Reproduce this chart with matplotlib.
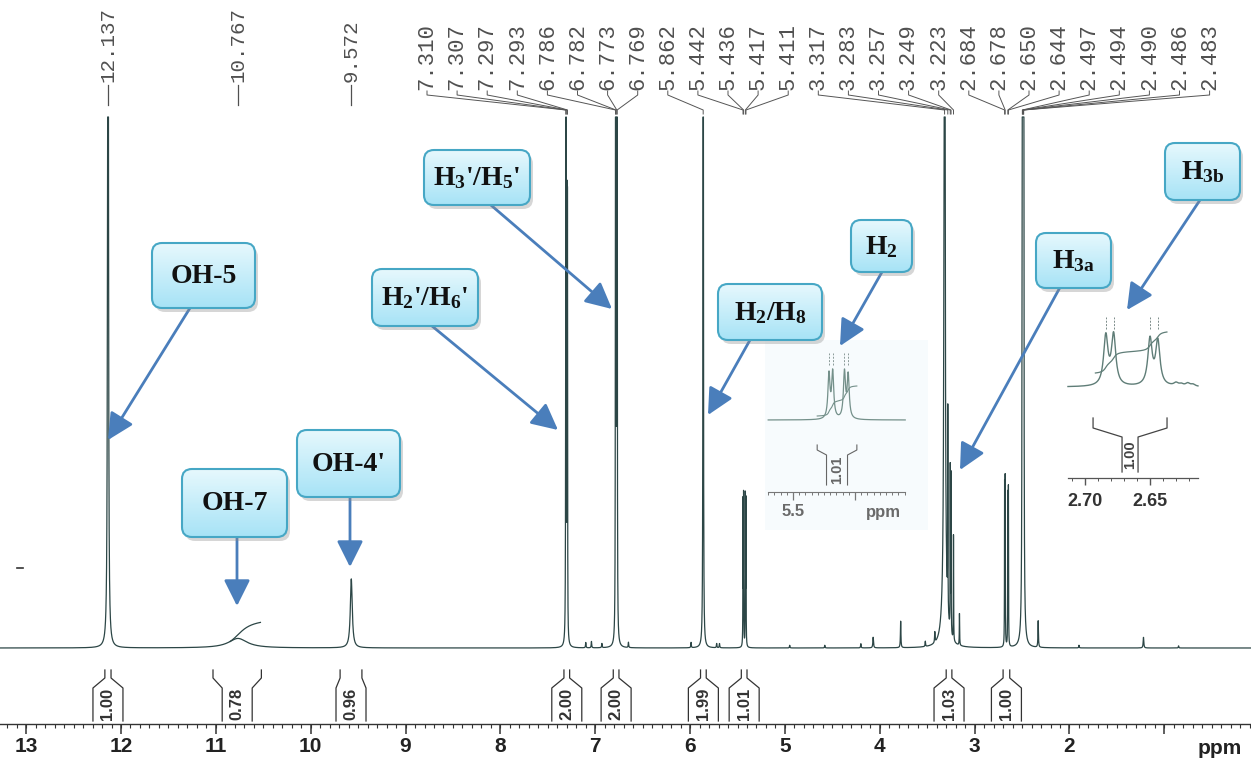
import numpy as np
import matplotlib.pyplot as plt
from matplotlib.patches import FancyBboxPatch, FancyArrowPatch
from matplotlib.colors import LinearSegmentedColormap

plt.rcParams['mathtext.fontset'] = 'custom'
plt.rcParams['mathtext.rm'] = 'Liberation Serif:bold'
plt.rcParams['mathtext.it'] = 'Liberation Serif:bold'
plt.rcParams['mathtext.bf'] = 'Liberation Serif:bold'

W, H = 1251, 762

# main 1H spectrum: shift (ppm), height (1 = top of the trace), half width (ppm)
peak_shift = [12.137, 10.767, 9.572, 7.310, 7.307, 7.297, 7.293, 7.10, 7.04, 6.93,
              6.786, 6.782, 6.773, 6.769, 6.65, 5.99, 5.862, 5.72, 5.69,
              5.442, 5.436, 5.417, 5.411, 4.95, 4.58, 4.20, 4.07, 3.78, 3.52, 3.42,
              3.317, 3.317, 3.283, 3.257, 3.249, 3.223, 3.16,
              2.684, 2.678, 2.650, 2.644,
              2.497, 2.494, 2.490, 2.486, 2.483, 2.33, 1.90, 1.22, 0.85]
peak_height = [4.0, 0.018, 0.13, 1.4, 1.4, 0.75, 0.75, 0.010, 0.012, 0.008,
               1.6, 1.6, 1.6, 1.6, 0.010, 0.010, 2.5, 0.008, 0.008,
               0.27, 0.28, 0.28, 0.27, 0.005, 0.005, 0.008, 0.02, 0.05, 0.01, 0.02,
               5.0, 0.12, 0.38, 0.31, 0.30, 0.2, 0.06,
               0.30, 0.31, 0.28, 0.29,
               3.0, 3.0, 3.0, 3.0, 3.0, 0.05, 0.005, 0.02, 0.004]
peak_width = [0.003, 0.12, 0.012, 0.0015, 0.0015, 0.0015, 0.0015, 0.003, 0.003, 0.003,
              0.0015, 0.0015, 0.0015, 0.0015, 0.003, 0.003, 0.002, 0.003, 0.003,
              0.0015, 0.0015, 0.0015, 0.0015, 0.003, 0.003, 0.003, 0.004, 0.003, 0.003, 0.003,
              0.003, 0.025, 0.0015, 0.0015, 0.0015, 0.0015, 0.002,
              0.0015, 0.0015, 0.0015, 0.0015,
              0.0015, 0.0015, 0.0015, 0.0015, 0.0015, 0.003, 0.003, 0.004, 0.003]

isolated_shifts = [12.137, 10.767, 9.572]
group_shifts = [7.310, 7.307, 7.297, 7.293, 6.786, 6.782, 6.773, 6.769, 5.862,
                5.442, 5.436, 5.417, 5.411, 3.317, 3.283, 3.257, 3.249, 3.223,
                2.684, 2.678, 2.650, 2.644, 2.497, 2.494, 2.490, 2.486, 2.483]

int_left = [12.17, 11.03, 9.69, 7.33, 6.81, 5.89, 5.46, 3.30, 2.70]
int_right = [12.105, 10.52, 9.46, 7.27, 6.75, 5.83, 5.40, 3.24, 2.63]
int_value = ['1.00', '0.78', '0.96', '2.00', '2.00', '1.99', '1.01', '1.03', '1.00']

major_ticks = list(range(13, 0, -1))
tick_labels = [str(t) for t in range(13, 1, -1)]

# expanded H2 multiplet
ins1_shift = [5.442, 5.436, 5.417, 5.411]
ins1_height = [44, 46, 46, 43]
# expanded H3b multiplet
ins2_shift = [2.684, 2.678, 2.650, 2.644, 2.630, 2.626, 2.621, 2.617]
ins2_height = [49, 50, 46, 44, 3, 2, 3, 2]

# assignments: text, box (px: left, top, right, bottom), arrow start, arrow tip (px)
callout_text = ['OH-5', 'OH-7', "OH-4'", "H$_2$'/H$_6$'", "H$_3$'/H$_5$'",
                'H$_2$/H$_8$', 'H$_2$', 'H$_{3a}$', 'H$_{3b}$']
callout_box = [(152, 243, 255, 308), (182, 469, 287, 537), (297, 430, 400, 497),
               (372, 269, 478, 326), (424, 150, 530, 205), (718, 284, 822, 340),
               (851, 220, 912, 272), (1036, 233, 1111, 288), (1165, 143, 1240, 200)]
arrow_from = [(190, 308), (237, 537), (350, 497), (432, 326), (485, 200),
              (750, 340), (882, 272), (1075, 260), (1200, 200)]
arrow_to = [(108, 440), (237, 606), (350, 567), (558, 430), (612, 309),
            (708, 415), (840, 346), (960, 470), (1127, 310)]

# pixel <-> data helpers for the main trace
X0_PX, X0_PPM, PX_PER_PPM = 108, 12.137, 94.85
BASE_PX, PX_PER_UNIT = 648, 531


def ppm_px(p):
    return X0_PX + (X0_PPM - p) * PX_PER_PPM


def px_ppm(x):
    return X0_PPM - (x - X0_PX) / PX_PER_PPM


def py_int(y):
    return (BASE_PX - y) / PX_PER_UNIT


def lorentz(x, c, h, w):
    c, h, w = np.asarray(c), np.asarray(h), np.asarray(w)
    return (h * w**2 / ((x[:, None] - c)**2 + w**2)).sum(axis=1)


def integral_trace(x, y, start, end, y0, rise):
    m = (x <= start) & (x >= end)
    cum = np.cumsum(y[m])
    return x[m], y0 + rise * cum / cum[-1]


def bracket(a, left, right, half, ys, text, tsize, color, lw, ty):
    c = (left + right) / 2
    a.plot([left, left, c + half, c + half], ys, color=color, lw=lw)
    a.plot([right, right, c - half, c - half], ys, color=color, lw=lw)
    a.text(c, ty, text, rotation=90, ha='center', va='center', fontsize=tsize,
           family='Liberation Sans', fontweight='bold', color=color)


fig = plt.figure(figsize=(W / 100, H / 100), dpi=100)

# ---- main spectrum
ax = fig.add_axes([0, 0, 1, 1])
ax.set_xlim(px_ppm(0), px_ppm(W))
ax.set_ylim(py_int(H), py_int(0))
ax.axis('off')

x = np.arange(px_ppm(0), px_ppm(W), -0.0005)
y = lorentz(x, peak_shift, peak_height, peak_width)
ax.plot(x, np.minimum(y, 1.0), color='#2c4646', lw=0.9)

broad = lorentz(x, [10.767], [0.018], [0.12])
xi, yi = integral_trace(x, broad, 10.85, 10.53, np.interp(-10.85, -x, y), 0.036)
ax.plot(xi, yi, color='#2c4646', lw=0.9)

for l, r, v in zip(int_left, int_right, int_value):
    bracket(ax, l, r, 15 / PX_PER_PPM,
            [py_int(670), py_int(678), py_int(688), py_int(721)],
            v, 12, '#333333', 0.9, py_int(704))

y_axis = py_int(724)
ax.plot([px_ppm(0), px_ppm(W)], [y_axis, y_axis], color='#333333', lw=1)
minor = np.round(np.arange(0.1, 13.25, 0.1), 1)
ax.vlines(minor, py_int(728), y_axis, color='#333333', lw=0.8)
ax.vlines(major_ticks, py_int(734), y_axis, color='#333333', lw=1.1)
for t in tick_labels:
    ax.text(float(t), py_int(747), t, ha='center', va='center', fontsize=15,
            family='Liberation Sans', fontweight='bold', color='#222222')
ax.text(px_ppm(1220), py_int(749), 'ppm', ha='center', va='center', fontsize=15,
        family='Liberation Sans', fontweight='bold', color='#222222')

# ---- inset 1: H2 expansion
ax1 = fig.add_axes([765 / W, 1 - 530 / H, 163 / W, 190 / H])
ax1.set_xlim(5.5 + 28 / 620, 5.5 - 135 / 620)
ax1.set_ylim(-110, 80)
ax1.set_facecolor('#f7fbfd')
for s in ax1.spines.values():
    s.set_visible(False)
ax1.set_xticks([])
ax1.set_yticks([])
x1 = np.linspace(5.540, 5.319, 3000)
y1 = lorentz(x1, ins1_shift, ins1_height, [0.002] * 4)
ax1.plot(x1, y1, color='#74908a', lw=0.9)
ax1.vlines(ins1_shift, 55, 67, color='#8a9a98', lw=0.7, linestyles=(0, (2, 1.5)))
xi, yi = integral_trace(x1, y1, 5.461, 5.397, 4, 30)
ax1.plot(xi, yi, color='#74908a', lw=0.8)
bracket(ax1, 5.461, 5.397, 10.5 / 620, [-25, -30, -35, -65], '1.01', 10.5, '#666666', 0.8, -50)
ax1.plot([5.540, 5.319], [-72, -72], color='#777777', lw=0.8)
ax1.vlines(np.round(np.arange(5.32, 5.545, 0.01), 2), -75, -72, color='#777777', lw=0.7)
ax1.vlines([5.5, 5.4], -80, -72, color='#777777', lw=0.9)
ax1.text(5.5, -92, '5.5', ha='center', va='center', fontsize=12, family='Liberation Sans',
         fontweight='bold', color='#6a6a6a')
ax1.text(5.5 - 90 / 620, -93, 'ppm', ha='center', va='center', fontsize=12,
         family='Liberation Sans', fontweight='bold', color='#6a6a6a')

# ---- inset 2: H3b expansion
ax2 = fig.add_axes([1065 / W, 1 - 520 / H, 135 / W, 210 / H])
ax2.set_xlim(2.70 + 20 / 1300, 2.65 - 50 / 1300)
ax2.set_ylim(-133, 77)
ax2.set_facecolor('none')
for s in ax2.spines.values():
    s.set_visible(False)
ax2.set_xticks([])
ax2.set_yticks([])
x2 = np.linspace(2.7131, 2.6131, 3000)
y2 = lorentz(x2, ins2_shift, ins2_height, [0.002] * 8)
ax2.plot(x2, y2, color='#5f7d77', lw=1.0)
ax2.vlines(ins2_shift[:4], 58, 70, color='#7a8a88', lw=0.7, linestyles=(0, (2, 1.5)))
xi, yi = integral_trace(x2, y2, 2.692, 2.637, 14, 41)
ax2.plot(xi, yi, color='#5f7d77', lw=0.9)
bracket(ax2, 2.6938, 2.6369, 8 / 1300, [-31, -41, -50, -85], '1.00', 10.5, '#444444', 0.9, -68)
ax2.plot([2.7131, 2.6131], [-91, -91], color='#555555', lw=0.9)
ax2.vlines(np.round(np.arange(2.62, 2.715, 0.01), 2), -94, -91, color='#555555', lw=0.7)
ax2.vlines([2.70, 2.65], -98, -91, color='#555555', lw=1.0)
for t in ['2.70', '2.65']:
    ax2.text(float(t), -114, t, ha='center', va='center', fontsize=13,
             family='Liberation Sans', fontweight='bold', color='#333333')

# ---- overlay in pixel units: peak picking, boxes, arrows
ov = fig.add_axes([0, 0, 1, 1])
ov.patch.set_alpha(0)
ov.axis('off')

for s in isolated_shifts:
    xp = ppm_px(s)
    ov.text(xp, 82, f'{s:.3f}', rotation=90, ha='center', va='bottom',
            family='Liberation Mono', fontsize=15, color='#505050')
    ov.plot([xp, xp], [85, 105], color='#505050', lw=0.9)

for i, s in enumerate(group_shifts):
    xl = 427 + 30.1 * i
    xp = ppm_px(s)
    ov.text(xl, 90, f'{s:.3f}', rotation=90, ha='center', va='bottom',
            family='Liberation Mono', fontsize=16, color='#505050')
    ov.plot([xl, xl, xp, xp], [91, 95, 110, 114], color='#555555', lw=0.7)

ov.plot([17, 23], [568, 568], color='#333333', lw=1.2)

cmap = LinearSegmentedColormap.from_list('callout', ['#e6f8fd', '#a7e3f6'])
grad = np.linspace(0, 1, 64).reshape(-1, 1)
for fr, to in zip(arrow_from, arrow_to):
    ov.add_patch(FancyArrowPatch(fr, to, arrowstyle='-|>,head_length=0.8,head_width=0.4',
                                 mutation_scale=20, lw=2, color='#4a7ebb',
                                 shrinkA=0, shrinkB=0, zorder=3))
for (x0, y0, x1_, y1_), txt in zip(callout_box, callout_text):
    bw, bh = x1_ - x0, y1_ - y0
    ov.add_patch(FancyBboxPatch((x0 + 3, y0 + 4), bw, bh,
                                boxstyle='round,pad=0,rounding_size=10',
                                fc='#8c8c8c', ec='none', alpha=0.35, zorder=4))
    clip = FancyBboxPatch((x0, y0), bw, bh, boxstyle='round,pad=0,rounding_size=10',
                          fc='none', ec='none', zorder=5)
    ov.add_patch(clip)
    im = ov.imshow(grad, cmap=cmap, extent=(x0, x1_, y1_, y0), aspect='auto', zorder=5)
    im.set_clip_path(clip)
    ov.add_patch(FancyBboxPatch((x0, y0), bw, bh, boxstyle='round,pad=0,rounding_size=10',
                                fc='none', ec='#46a7c5', lw=1.5, zorder=6))
    ov.text((x0 + x1_) / 2, (y0 + y1_) / 2 + 1, txt, ha='center', va='center',
            fontsize=20, family='Liberation Serif', fontweight='bold',
            color='#111111', zorder=7)

ov.set_xlim(0, W)
ov.set_ylim(H, 0)

fig.savefig('out.png', dpi=100, facecolor='white')
